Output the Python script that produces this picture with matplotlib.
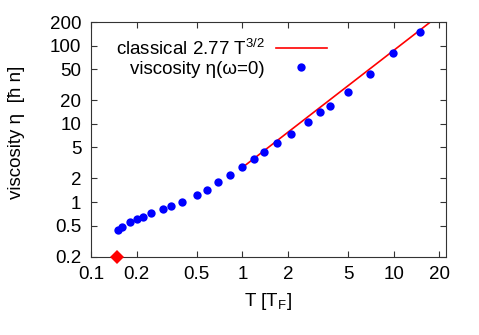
import numpy as np
import matplotlib
matplotlib.use("Agg")
from matplotlib import pyplot as plt

plt.rcParams['font.family'] = ['Liberation Sans', 'DejaVu Sans']
plt.rcParams['mathtext.fontset'] = 'custom'
plt.rcParams['mathtext.rm'] = 'Liberation Sans'
plt.rcParams['mathtext.it'] = 'Liberation Sans'

# viscosity eta(omega=0) vs T/T_F
T_visc = [0.151, 0.160, 0.180, 0.202, 0.219, 0.249, 0.299, 0.339, 0.398, 0.498,
          0.580, 0.692, 0.827, 1.0, 1.19, 1.39, 1.70, 2.09, 2.70, 3.26,
          3.77, 4.95, 6.95, 9.91, 14.9]
eta_visc = [0.437, 0.474, 0.549, 0.605, 0.648, 0.716, 0.806, 0.888, 1.01, 1.23,
            1.44, 1.79, 2.20, 2.83, 3.58, 4.38, 5.65, 7.50, 10.6, 14.1,
            17.2, 25.7, 43.8, 80.5, 148]

# classical line 2.77 T^{3/2}
coef = 2.77
T_class = [1.0, 1.5, 2.0, 3.0, 5.0, 8.0, 12.0, 18.0]
eta_class = [coef * t ** 1.5 for t in T_class]

# critical temperature marker
T_c = [0.148]
eta_c = [0.2]

xticks = [0.1, 0.2, 0.5, 1, 2, 5, 10, 20]
xticklabels = ['0.1', '0.2', '0.5', '1', '2', '5', '10', '20']
yticks = [0.2, 0.5, 1, 2, 5, 10, 20, 50, 100, 200]
yticklabels = ['0.2', '0.5', '1', '2', '5', '10', '20', '50', '100', '200']

fs = 13.5

fig = plt.figure(figsize=(4.79, 3.35), dpi=100)
ax = fig.add_axes([0.190, 0.234, 0.7405, 0.6995])

ax.plot(T_class, eta_class, color='#ff0000', lw=1.2,
        label='classical 2.77 T$^{3/2}$')
ax.plot(T_visc, eta_visc, 'o', color='#0000ff', ms=6, mew=0,
        label='viscosity η(ω=0)')
ax.plot(T_c, eta_c, 'D', color='#ff0000', ms=7, mew=0, clip_on=False, zorder=5)

ax.set_xscale('log')
ax.set_yscale('log')
ax.set_xlim(0.1, 22)
ax.set_ylim(0.2, 200)
ax.set_xticks(xticks)
ax.set_xticklabels(xticklabels)
ax.set_yticks(yticks)
ax.set_yticklabels(yticklabels)
ax.minorticks_off()
ax.tick_params(direction='in', top=True, right=True, length=4.5, width=0.8,
               color='#333333', labelsize=fs, pad=7)
for s in ax.spines.values():
    s.set_linewidth(0.8)
    s.set_color('#333333')

ax.set_xlabel('T [T$_\\mathregular{F}$]', fontsize=fs)
ax.set_ylabel('viscosity η  [ħ n]', fontsize=fs)
ax.xaxis.set_label_coords(0.5, -0.145)
ax.yaxis.set_label_coords(-0.186, 0.53)

ax.legend(loc='upper right', bbox_to_anchor=(0.664, 0.93), frameon=False,
          markerfirst=False, fontsize=fs, handlelength=2.7, handletextpad=0.6,
          labelspacing=0.1, borderpad=0, borderaxespad=0)

fig.savefig('out.png', dpi=100)
